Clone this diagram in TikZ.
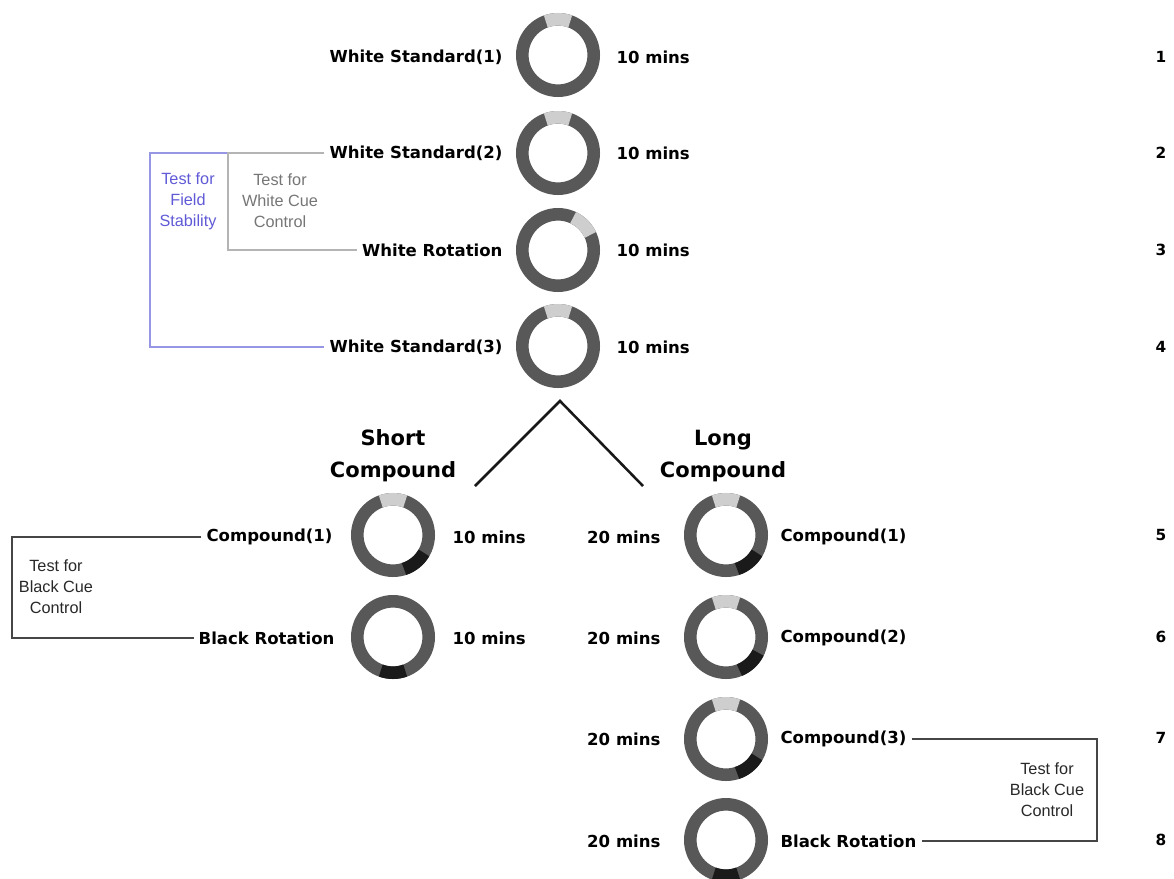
\documentclass[tikz,border=0pt]{standalone}
\usepackage{fontspec}
\setmainfont{Liberation Sans}
\newfontfamily\heavyfont{DejaVu Sans}

\definecolor{ringgray}{RGB}{88,88,88}
\definecolor{litegray}{RGB}{206,206,206}
\definecolor{segblack}{RGB}{26,26,26}
\definecolor{fieldblue}{RGB}{96,90,214}
\definecolor{fieldline}{RGB}{150,150,228}
\definecolor{cuegray}{RGB}{118,118,118}
\definecolor{cueline}{RGB}{180,180,180}
\definecolor{blackline}{RGB}{70,70,70}

\tikzset{every picture/.style={line width=0.75pt}}
\tikzset{
  ring/.style={circle, draw=ringgray, line width=9.45pt, minimum size=53.55pt, inner sep=0pt, outer sep=0pt},
  liteseg/.style={draw=litegray, line width=9.45pt},
  blackseg/.style={draw=segblack, line width=9.45pt},
  lbl/.style={inner sep=1.5pt, font=\heavyfont\bfseries\fontsize{12.4}{15}\selectfont},
  head/.style={inner sep=0.75pt, align=center, font=\heavyfont\bfseries\fontsize{15.75}{24}\selectfont},
  num/.style={inner sep=0.75pt, font=\heavyfont\bfseries\fontsize{11.5}{13}\selectfont},
  note/.style={inner sep=0.75pt, align=center, font=\fontsize{12.2}{15.75}\selectfont},
  bracket/.style={line width=1pt, shorten <=2pt, shorten >=2pt},
  split/.style={line width=1.9pt, draw={rgb,255:red,24;green,24;blue,24}}
}

\begin{document}
\begin{tikzpicture}[x=0.75pt,y=0.75pt,yscale=-1,xscale=1]
\path[use as bounding box] (0,0) rectangle (1174,878);

%Shape: Ring [id:white column]
\draw (558,55) node [ring] (r1) {};
\draw [liteseg] (r1.70) arc [start angle=-70, end angle=-110, radius=26.775pt];
\draw (558,153) node [ring] (r2) {};
\draw [liteseg] (r2.70) arc [start angle=-70, end angle=-110, radius=26.775pt];
\draw (558,250) node [ring] (r3) {};
\draw [liteseg] (r3.25) arc [start angle=-25, end angle=-65, radius=26.775pt];
\draw (558,346) node [ring] (r4) {};
\draw [liteseg] (r4.70) arc [start angle=-70, end angle=-110, radius=26.775pt];

%Shape: Ring [id:short column]
\draw (393,535) node [ring] (s5) {};
\draw [liteseg] (s5.70) arc [start angle=-70, end angle=-110, radius=26.775pt];
\draw [blackseg] (s5.-30) arc [start angle=30, end angle=72, radius=26.775pt];
\draw (393,637) node [ring] (s6) {};
\draw [blackseg] (s6.-70) arc [start angle=70, end angle=110, radius=26.775pt];

%Shape: Ring [id:long column]
\draw (726,535) node [ring] (l5) {};
\draw [liteseg] (l5.70) arc [start angle=-70, end angle=-110, radius=26.775pt];
\draw [blackseg] (l5.-30) arc [start angle=30, end angle=72, radius=26.775pt];
\draw (726,637) node [ring] (l6) {};
\draw [liteseg] (l6.70) arc [start angle=-70, end angle=-110, radius=26.775pt];
\draw [blackseg] (l6.-26) arc [start angle=26, end angle=68, radius=26.775pt];
\draw (726,739) node [ring] (l7) {};
\draw [liteseg] (l7.70) arc [start angle=-70, end angle=-110, radius=26.775pt];
\draw [blackseg] (l7.-30) arc [start angle=30, end angle=72, radius=26.775pt];
\draw (726,840) node [ring] (l8) {};
\draw [blackseg] (l8.-70) arc [start angle=70, end angle=110, radius=26.775pt];

%Straight Lines [id:split]
\coordinate (apex) at (560,401);
\coordinate (splitL) at (475,486);
\coordinate (splitR) at (643,486);
\draw [split] (splitL) -- (apex) -- (splitR);

% Text Node
\draw (505,57) node [lbl, anchor=east] (ws1) {White Standard(1)};
% Text Node
\draw (614,57) node [lbl, anchor=west] (t1) {10 mins};
% Text Node
\draw (505,153) node [lbl, anchor=east] (ws2) {White Standard(2)};
% Text Node
\draw (614,153) node [lbl, anchor=west] (t2) {10 mins};
% Text Node
\draw (505,250) node [lbl, anchor=east] (wr) {White Rotation};
% Text Node
\draw (614,250) node [lbl, anchor=west] (t3) {10 mins};
% Text Node
\draw (505,347) node [lbl, anchor=east] (ws3) {White Standard(3)};
% Text Node
\draw (614,347) node [lbl, anchor=west] (t4) {10 mins};

% Text Node
\draw (393,456) node [head] (shortc) {Short\\Compound};
% Text Node
\draw (723,456) node [head] (longc) {Long\\Compound};

% Text Node
\draw (335,537) node [lbl, anchor=east] (sc1) {Compound(1)};
% Text Node
\draw (450,537) node [lbl, anchor=west] (st5) {10 mins};
% Text Node
\draw (337,638) node [lbl, anchor=east] (sbr) {Black Rotation};
% Text Node
\draw (450,638) node [lbl, anchor=west] (st6) {10 mins};

% Text Node
\draw (663,537) node [lbl, anchor=east] (lt5) {20 mins};
% Text Node
\draw (778,537) node [lbl, anchor=west] (lc1) {Compound(1)};
% Text Node
\draw (663,638) node [lbl, anchor=east] (lt6) {20 mins};
% Text Node
\draw (778,638) node [lbl, anchor=west] (lc2) {Compound(2)};
% Text Node
\draw (663,739) node [lbl, anchor=east] (lt7) {20 mins};
% Text Node
\draw (778,739) node [lbl, anchor=west] (lc3) {Compound(3)};
% Text Node
\draw (663,841) node [lbl, anchor=east] (lt8) {20 mins};
% Text Node
\draw (778,841) node [lbl, anchor=west] (lbr) {Black Rotation};

%Straight Lines [id:field stability]
\coordinate (fsx) at (150,0);
\draw [bracket, draw=fieldline] (ws2.west) -- (ws2.west -| fsx) -- (ws3.west -| fsx) -- (ws3.west);
%Straight Lines [id:white cue]
\coordinate (wcx) at (228,0);
\draw [bracket, draw=cueline] (ws2.west) -- (ws2.west -| wcx) -- (wr.west -| wcx) -- (wr.west);
%Straight Lines [id:black cue short]
\coordinate (sbx) at (12,0);
\draw [bracket, draw=blackline] (sc1.west) -- (sc1.west -| sbx) -- (sbr.west -| sbx) -- (sbr.west);
%Straight Lines [id:black cue long]
\coordinate (lbx) at (1097,0);
\draw [bracket, draw=blackline] (lc3.east) -- (lc3.east -| lbx) -- (lbr.east -| lbx) -- (lbr.east);

% Text Node
\draw (188,201) node [note, text=fieldblue] (fstab) {Test for\\Field\\Stability};
% Text Node
\draw (280,201) node [note, text=cuegray] (wcue) {Test for\\White Cue\\Control};
% Text Node
\draw (56,587) node [note, text={rgb,255:red,40;green,40;blue,40}] (bcue1) {Test for\\Black Cue\\Control};
% Text Node
\draw (1047,790) node [note, text={rgb,255:red,40;green,40;blue,40}] (bcue2) {Test for\\Black Cue\\Control};

% Text Node
\draw (1161,57) node [num] (n1) {1};
% Text Node
\draw (1161,153) node [num] (n2) {2};
% Text Node
\draw (1161,250) node [num] (n3) {3};
% Text Node
\draw (1161,347) node [num] (n4) {4};
% Text Node
\draw (1161,535) node [num] (n5) {5};
% Text Node
\draw (1161,637) node [num] (n6) {6};
% Text Node
\draw (1161,738) node [num] (n7) {7};
% Text Node
\draw (1161,840) node [num] (n8) {8};

\end{tikzpicture}
\end{document}
